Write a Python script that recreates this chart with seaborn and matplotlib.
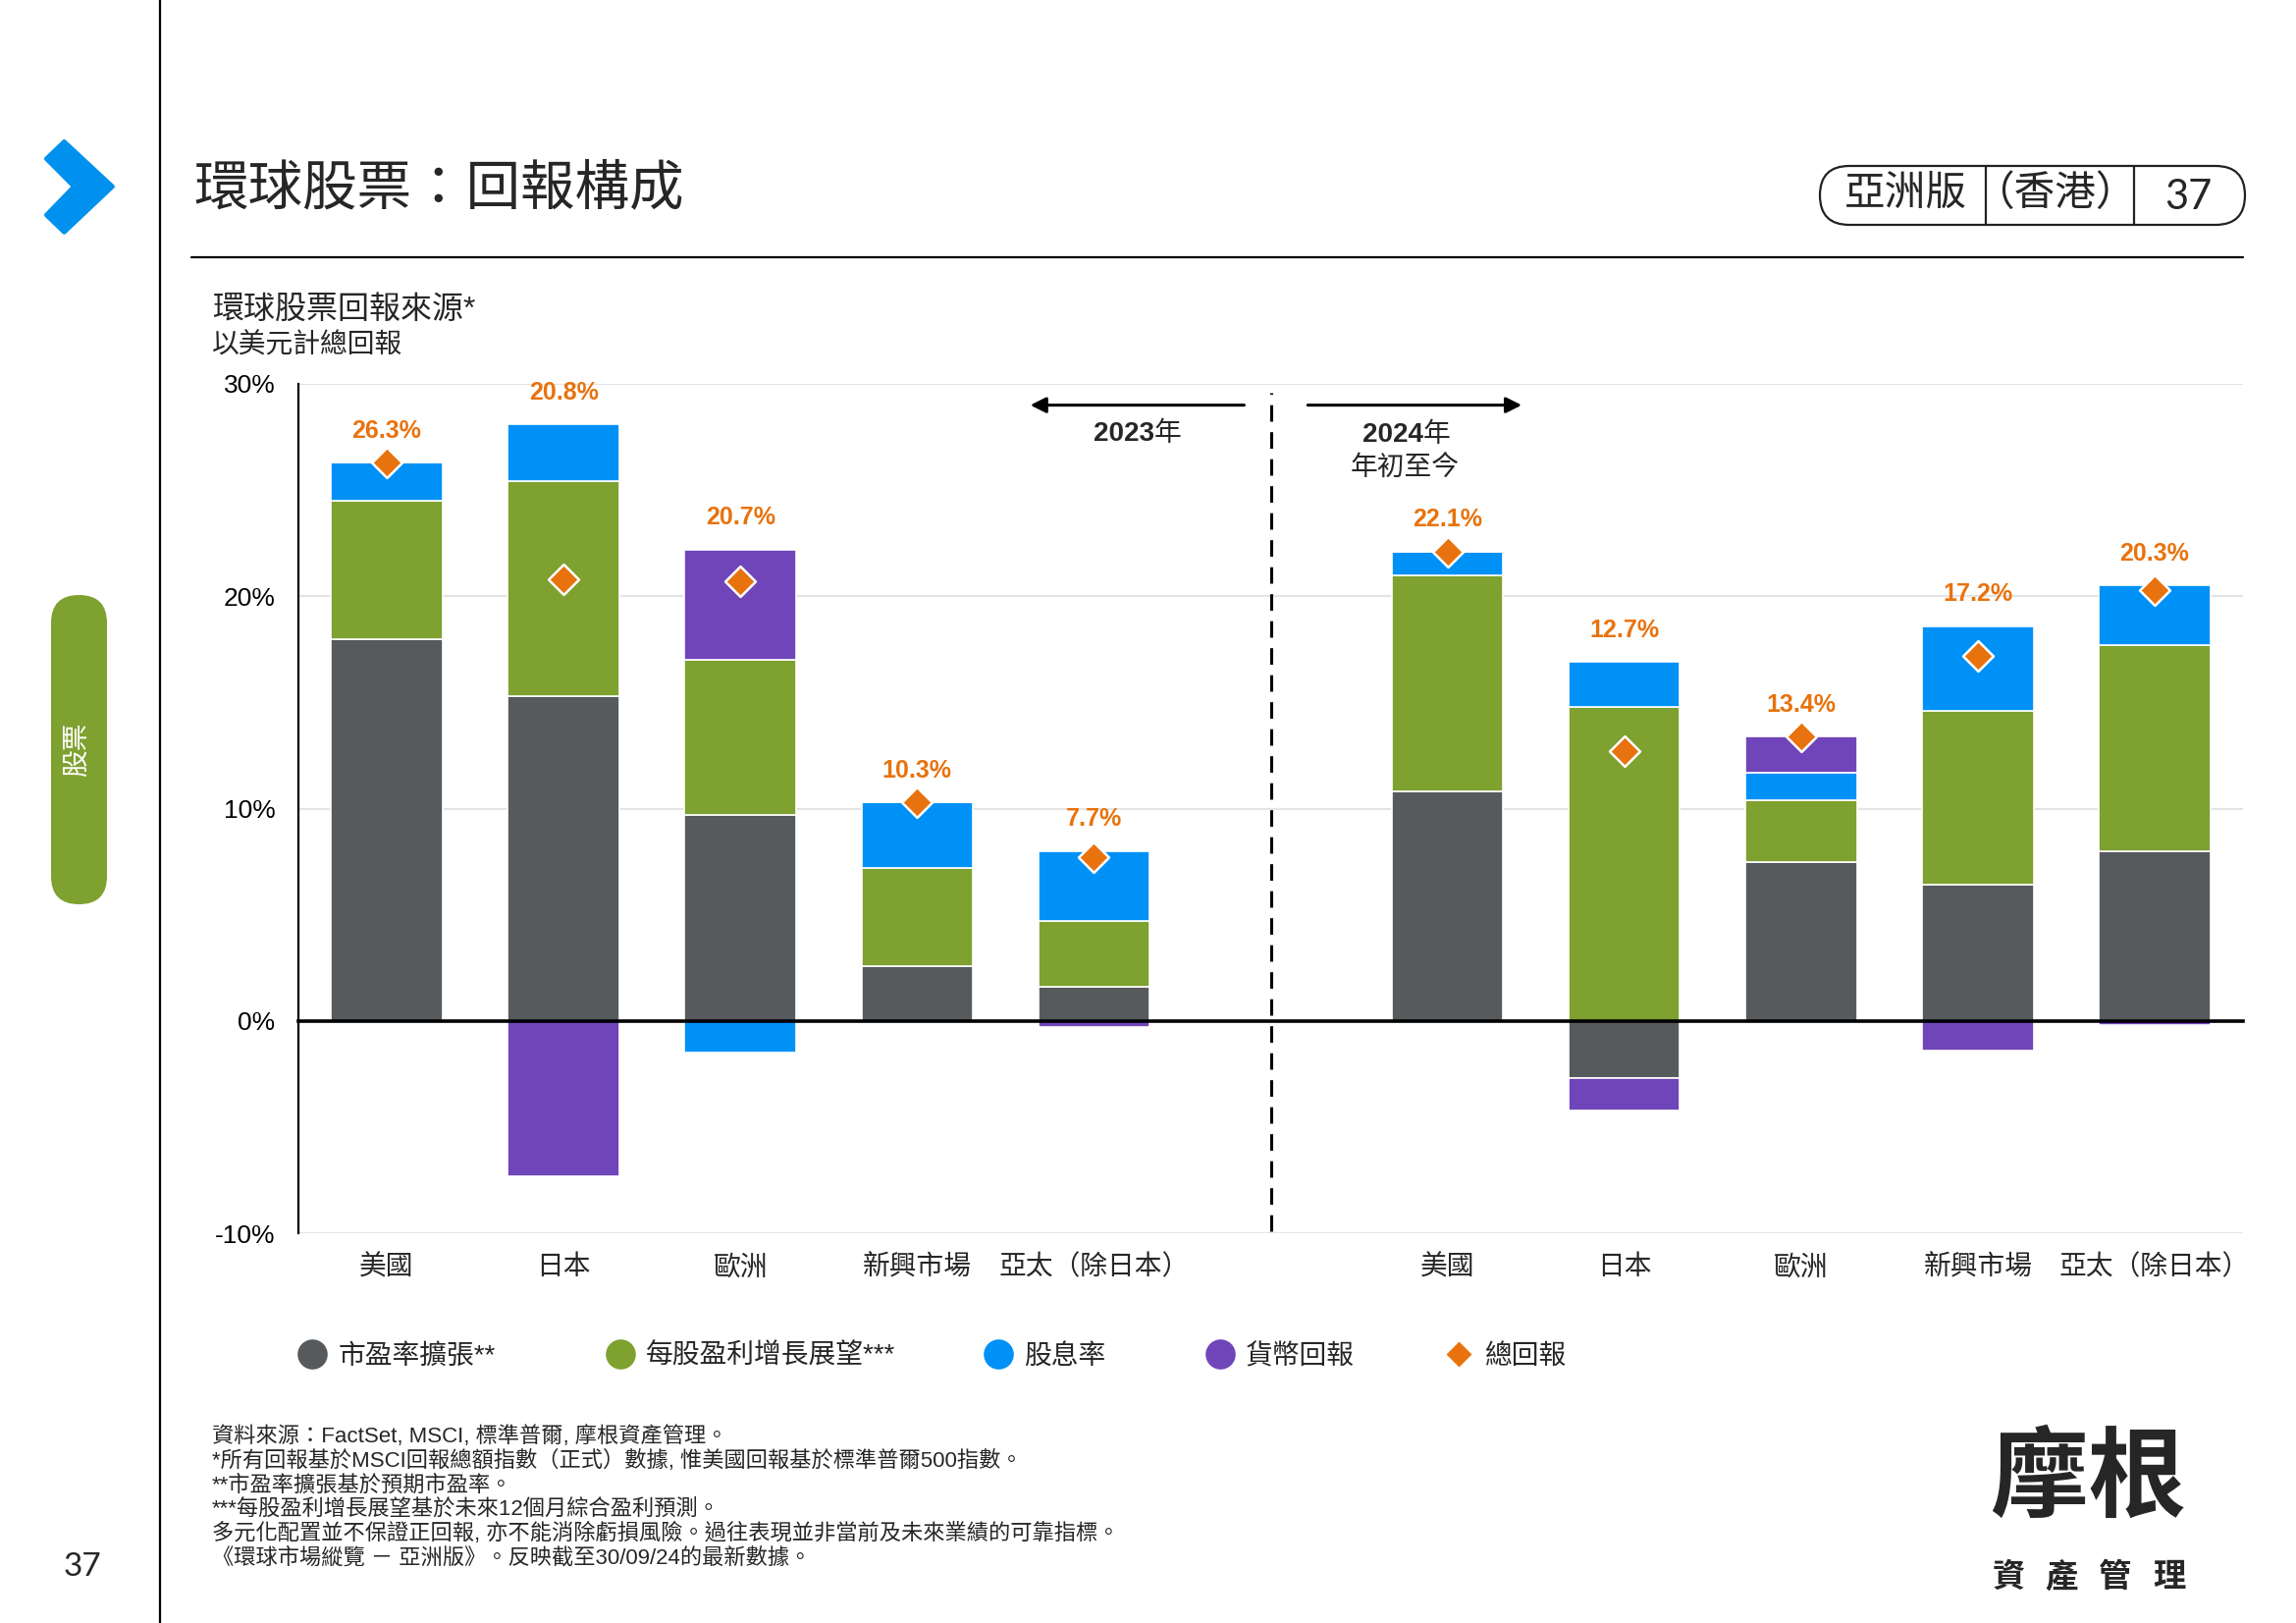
import numpy as np
import pandas as pd
import matplotlib.pyplot as plt
import matplotlib.transforms as mtransforms
from matplotlib.lines import Line2D
from matplotlib.patches import FancyBboxPatch, Polygon
import seaborn as sns

# --- Données (rendements en %) ---
regions = ["美國", "日本", "歐洲", "新興市場", "亞太（除日本）"]

pe_2023 = [18.0, 15.3, 9.7, 2.6, 1.6]
eps_2023 = [6.5, 10.1, 7.3, 4.6, 3.1]
div_2023 = [1.8, 2.7, -1.5, 3.1, 3.3]
fx_2023 = [0.0, -7.3, 5.2, 0.0, -0.3]
total_2023 = [26.3, 20.8, 20.7, 10.3, 7.7]

pe_2024 = [10.8, -2.7, 7.5, 6.4, 8.0]
eps_2024 = [10.2, 14.8, 2.9, 8.2, 9.7]
div_2024 = [1.1, 2.1, 1.3, 4.0, 2.8]
fx_2024 = [0.0, -1.5, 1.7, -1.4, -0.2]
total_2024 = [22.1, 12.7, 13.4, 17.2, 20.3]

components = ["市盈率擴張**", "每股盈利增長展望***", "股息率", "貨幣回報"]
colors = ["#575A5D", "#7EA12F", "#0091F7", "#7045BA"]
total_label = "總回報"
total_color = "#E8730E"
y_ticks = [-10, 0, 10, 20, 30]

footnotes = [
    "資料來源：FactSet, MSCI, 標準普爾, 摩根資產管理。",
    "*所有回報基於MSCI回報總額指數（正式）數據, 惟美國回報基於標準普爾500指數。",
    "**市盈率擴張基於預期市盈率。",
    "***每股盈利增長展望基於未來12個月綜合盈利預測。",
    "多元化配置並不保證正回報, 亦不能消除虧損風險。過往表現並非當前及未來業績的可靠指標。",
    "《環球市場縱覽 － 亞洲版》。反映截至30/09/24的最新數據。",
]

# 2023 dans les emplacements 0-4, 2024 dans 6-10 (emplacement 5 = séparateur)
df = pd.DataFrame({
    "pos": np.r_[np.arange(5), np.arange(5) + 6],
    "label": regions * 2,
    components[0]: pe_2023 + pe_2024,
    components[1]: eps_2023 + eps_2024,
    components[2]: div_2023 + div_2024,
    components[3]: fx_2023 + fx_2024,
    "total": total_2023 + total_2024,
})

W, H = 2339, 1653
sns.set_theme(style="white")
plt.rcParams["font.family"] = ["Liberation Sans", "Noto Sans CJK TC"]
plt.rcParams["axes.unicode_minus"] = False

fig = plt.figure(figsize=(W / 200, H / 200), dpi=200)

# calque de page en pixels (y vers le bas)
page = fig.add_axes([0, 0, 1, 1])
page.set_xlim(0, W)
page.set_ylim(H, 0)
page.axis("off")

ax = fig.add_axes([304 / W, 1 - 1256 / H, (2285 - 304) / W, (1256 - 391) / H])
ax.set_facecolor("none")

# --- Barres empilées (positifs vers le haut, négatifs vers le bas) ---
pos_base = np.zeros(len(df))
neg_base = np.zeros(len(df))
for comp, col in zip(components, colors):
    vals = df[comp].to_numpy()
    bottom = np.where(vals >= 0, pos_base, neg_base)
    sns.barplot(data=df, x="pos", y=comp, native_scale=True, orient="x",
                width=0.63, color=col, saturation=1, edgecolor="white",
                linewidth=0.6, errorbar=None, bottom=bottom, zorder=2, ax=ax)
    pos_base += np.clip(vals, 0, None)
    neg_base += np.clip(vals, None, 0)

sns.scatterplot(data=df, x="pos", y="total", marker="D", s=62, color=total_color,
                edgecolor="white", linewidth=0.9, zorder=5, legend=False, ax=ax)

label_y = np.maximum(pos_base, df["total"].to_numpy()) + 1.5
for x, y, v in zip(df["pos"], label_y, df["total"]):
    ax.text(x, y, f"{v:.1f}%", ha="center", va="center", fontsize=9,
            fontweight="bold", color=total_color)

# --- Axes ---
ax.set_xlim(-0.5, 10.5)
ax.set_ylim(-10, 30)
ax.set_yticks(y_ticks)
ax.set_yticklabels([f"{t}%" for t in y_ticks])
ax.set_xticks(np.arange(0.5, 10, 1))
ax.set_xticklabels([])
ax.tick_params(axis="y", length=0, pad=8.5, labelsize=9.5, labelcolor="black")
ax.tick_params(axis="x", length=4, width=0.8, direction="out", color="black")
ax.spines[["top", "right"]].set_visible(False)
ax.spines["bottom"].set_position(("data", 0))
ax.spines["bottom"].set_linewidth(1.3)
ax.spines["bottom"].set_color("black")
ax.spines["left"].set_linewidth(0.8)
ax.spines["left"].set_color("black")
ax.yaxis.grid(True, color="#e4e4e4", lw=0.8)
ax.set_axisbelow(True)
ax.set_xlabel("")
ax.set_ylabel("")

trans = mtransforms.blended_transform_factory(ax.transData, ax.transAxes)
for x, lab in zip(df["pos"], df["label"]):
    ax.text(x, -0.041, lab, transform=trans, ha="center", va="center", fontsize=10)

# séparateur 2023 / 2024
ax.plot([5, 5], [-9.9, 29.6], color="black", lw=1.1, ls=(0, (5.5, 3.5)), zorder=3)
arrow = dict(arrowstyle="-|>", color="black", lw=1.1, mutation_scale=12, shrinkA=0, shrinkB=0)
ax.annotate("", xy=(3.64, 29.0), xytext=(4.85, 29.0), arrowprops=arrow)
ax.annotate("", xy=(6.42, 29.0), xytext=(5.21, 29.0), arrowprops=arrow)
ax.text(4.34, 27.3, "2023", ha="right", va="baseline", fontsize=10, fontweight="bold")
ax.text(4.34, 27.3, "年", ha="left", va="baseline", fontsize=10)
ax.text(5.86, 27.25, "2024", ha="right", va="baseline", fontsize=10, fontweight="bold")
ax.text(5.86, 27.25, "年", ha="left", va="baseline", fontsize=10)
ax.text(5.76, 26.0, "年初至今", ha="center", va="center", fontsize=10)

# --- Légende (une entrée par bloc, placées comme sur l'original) ---
handles = [Line2D([], [], ls="", marker="o", ms=10, mfc=c, mec=c) for c in colors]
handles.append(Line2D([], [], ls="", marker="D", ms=5.5, mfc=total_color, mec=total_color))
legend_x = [318, 632, 1017, 1243, 1486]
for h, lab, lx in zip(handles, components + [total_label], legend_x):
    fig.legend([h], [lab], loc="center left", bbox_to_anchor=((lx - 14) / W, 1 - 1382 / H),
               frameon=False, fontsize=10, handlelength=1.0, handletextpad=0.45,
               borderpad=0, borderaxespad=0)

# --- Éléments de page ---
page.plot([163, 163], [0, H], color="black", lw=0.8)
page.plot([195, 2285], [262, 262], color="black", lw=0.8)
chevron = [(65.4, 144), (114.9, 190), (65.4, 236.7), (47, 219), (75.1, 190), (47, 161.7)]
page.add_patch(Polygon(chevron, closed=True, fc="#0091EE", ec="#0091EE", lw=1.5, joinstyle="round"))

page.text(197, 194, "環球股票：回報構成", fontsize=20, va="center", ha="left")
page.text(216, 316, "環球股票回報來源*", fontsize=11.5, va="center", ha="left")
page.text(216, 352, "以美元計總回報", fontsize=10, va="center", ha="left")

page.add_patch(FancyBboxPatch((1854, 169), 433, 60, boxstyle="round,pad=0,rounding_size=30",
                              fc="none", ec="#222222", lw=0.8))
page.plot([2023, 2023], [169, 229], color="#222222", lw=0.8)
page.plot([2174, 2174], [169, 229], color="#222222", lw=0.8)
page.text(1941, 198, "亞洲版", fontsize=15, ha="center", va="center")
page.text(2093, 198, "（香港）", fontsize=15, ha="center", va="center")
page.text(2229, 201, "37", fontsize=15, ha="center", va="center", family="Lato")

page.add_patch(FancyBboxPatch((52, 606), 57, 315, boxstyle="round,pad=0,rounding_size=28.5",
                              fc="#7EA12F", ec="none"))
page.text(79, 763, "股票", rotation=90, fontsize=10, color="white", ha="center", va="center")

page.text(84, 1596, "37", fontsize=12, ha="center", va="center", family="Lato")

for i, line in enumerate(footnotes):
    page.text(216, 1463 + 24.8 * i, line, fontsize=8, ha="left", va="center")

page.text(2127, 1510, "摩根", fontsize=36, fontweight="bold", ha="center", va="center")
for i, ch in enumerate("資產管理"):
    page.text(2046 + 54.5 * i, 1607, ch, fontsize=12, fontweight="bold", ha="center", va="center")

fig.savefig("out.png", dpi=200)
